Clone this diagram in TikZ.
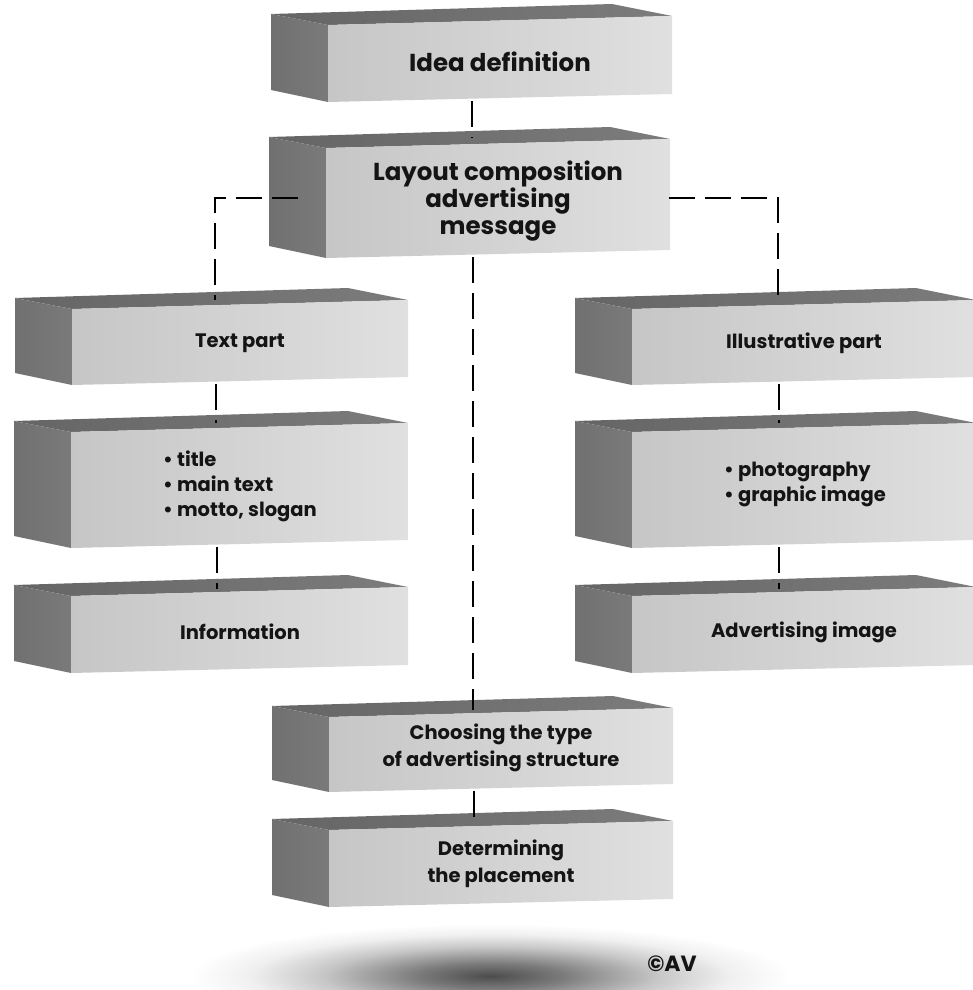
\documentclass[tikz,border=0pt]{standalone}
\usepackage{fontspec}
\setmainfont{Poppins}
\definecolor{topdark}{HTML}{656565}
\definecolor{toplight}{HTML}{7C7C7C}
\definecolor{sidegray}{HTML}{7A7A7A}
\definecolor{frontL}{HTML}{C6C6C6}
\definecolor{frontR}{HTML}{E0E0E0}
\pgfdeclareradialshading{floorshadow}{\pgfpointorigin}{color(0bp)=(black!70); color(6bp)=(black!52); color(14bp)=(black!22); color(20bp)=(black!6); color(25bp)=(white); color(50bp)=(white)}
% a slab: #1 front-left x, #2 front-right x, #3 front top y (left), #4 front bottom y (left)
\newcommand\slab[4]{%
  \shade[left color=topdark, right color=toplight]
    (#1-57,#3-11) -- (#2-60,#3-21) -- (#2,#3-9) -- (#1,#3) -- cycle;
  \shade[left color=sidegray!92!black, right color=sidegray]
    (#1-57,#3-11) -- (#1,#3) -- (#1,#4) -- (#1-57,#4-12) -- cycle;
  \shade[left color=frontL, right color=frontR]
    (#1,#3) -- (#2,#3-9) -- (#2,#4-8) -- (#1,#4) -- cycle;
}
\begin{document}
\begin{tikzpicture}[x=1pt,y=-1pt,
  link/.style={line width=2.4pt, dash pattern=on 26pt off 10pt, black},
  biglbl/.style={font=\bfseries\fontsize{24.5}{27}\selectfont, align=center, text=black!92},
  lbl/.style={font=\bfseries\fontsize{19.5}{27}\selectfont, align=center, text=black!92},
  listlbl/.style={font=\bfseries\fontsize{19.5}{25}\selectfont, align=left, text=black!92}]
\useasboundingbox (0,0) rectangle (972,990);

% soft floor shadow
\shade[shading=floorshadow] (490,976) ellipse [x radius=300pt, y radius=52pt];

% slabs
\slab{328}{672}{25}{102}
\slab{326}{670}{148}{258}
\slab{72}{408}{309}{385}
\slab{71}{408}{432}{548}
\slab{71}{408}{596}{673}
\slab{632}{976}{309}{385}
\slab{632}{976}{432}{548}
\slab{632}{976}{596}{673}
\slab{329}{673}{717}{792}
\slab{329}{673}{830}{907}

% labels
\node[biglbl] (idea) at (500,62) {Idea definition};
\node[biglbl] (layout) at (498,201) {Layout composition\\advertising\\message};
\node[lbl] (textpart) at (240,343) {Text part};
\node[listlbl] (textlist) at (240,486) {• title\\• main text\\• motto, slogan};
\node[lbl] (info) at (240,632) {Information};
\node[lbl] (illus) at (804,343) {Illustrative part};
\node[listlbl] (illist) at (805,484) {• photography\\• graphic image};
\node[lbl] (adimg) at (804,632) {Advertising image};
\node[lbl] (choose) at (501,748) {Choosing the type\\of advertising structure};
\node[lbl] (place) at (501,864) {Determining\\the placement};
\node[font=\bfseries\fontsize{22}{24}\selectfont, text=black!92] (copy) at (672,964) {©AV};

% connector ports
\coordinate (idea-out) at (472,101);
\coordinate (layout-in) at (472,138);
\coordinate (layout-out) at (473,257);
\coordinate (layout-west) at (298,198);
\coordinate (layout-east) at (669,198);
\coordinate (textpart-in) at (215,300);
\coordinate (textpart-out) at (216,384);
\coordinate (textlist-in) at (216,423);
\coordinate (textlist-out) at (217,547);
\coordinate (info-in) at (217,589);
\coordinate (illus-in) at (778,300);
\coordinate (illus-out) at (779,384);
\coordinate (illist-in) at (779,423);
\coordinate (illist-out) at (779,547);
\coordinate (adimg-in) at (779,589);
\coordinate (choose-in) at (473,710);
\coordinate (choose-out) at (474,791);
\coordinate (place-in) at (474,824);

% connectors
\draw[link] (idea-out) -- (layout-in);
\draw[link] (layout-out) -- (choose-in);
\draw[link] (layout-west) -| (textpart-in);
\draw[link] (layout-east) -| (illus-in);
\draw[link] (textpart-out) -- (textlist-in);
\draw[link] (textlist-out) -- (info-in);
\draw[link] (illus-out) -- (illist-in);
\draw[link] (illist-out) -- (adimg-in);
\draw[link] (choose-out) -- (place-in);
\end{tikzpicture}
\end{document}
